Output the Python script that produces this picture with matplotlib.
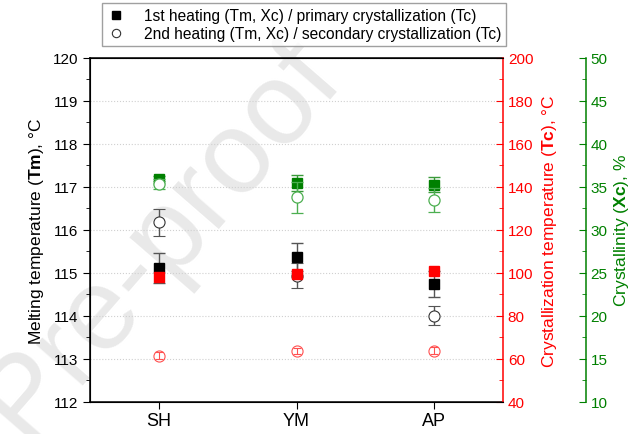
import numpy as np
import matplotlib
matplotlib.use('Agg')
import matplotlib.pyplot as plt
from matplotlib.ticker import MultipleLocator
from matplotlib.lines import Line2D

plt.rcParams['font.family'] = ['Liberation Sans', 'DejaVu Sans']
plt.rcParams['mathtext.fontset'] = 'custom'
plt.rcParams['mathtext.rm'] = 'Liberation Sans'
plt.rcParams['mathtext.bf'] = 'Liberation Sans:bold'

# amostras
amostras = ['SH', 'YM', 'AP']

# temperatura de fusao (Tm)
tm_1 = [115.11, 115.37, 114.74]
tm_1_err = [0.35, 0.33, 0.30]
tm_2 = [116.18, 114.94, 114.01]
tm_2_err = [0.31, 0.29, 0.22]

# temperatura de cristalizacao (Tc)
tc_1 = [98.3, 99.5, 100.8]
tc_1_err = [0.6, 0.6, 0.6]
tc_2 = [61.6, 63.8, 63.9]
tc_2_err = [1.5, 1.5, 1.5]

# cristalinidade (Xc)
xc_1 = [35.95, 35.43, 35.27]
xc_1_err = [0.3, 0.93, 0.87]
xc_2 = [35.35, 33.8, 33.45]
xc_2_err = [0.6, 1.82, 1.4]

x = np.arange(1, len(amostras) + 1)

fig = plt.figure(figsize=(6.42, 4.35), dpi=100)
ax = fig.add_axes([0.1402, 0.0736, 0.6433, 0.7908])
ax.set_facecolor('none')

# marca d'agua
fig.text(0.25, 0.45, 'Pre-proof', fontsize=84, color='#e9e9e9',
         rotation=49, ha='center', va='center', zorder=-5)

# eixo Tm
ax.errorbar(x, tm_1, yerr=tm_1_err, fmt='s', color='black', ms=7,
            ecolor='#555555', elinewidth=1, capsize=4, zorder=3)
ax.errorbar(x, tm_2, yerr=tm_2_err, fmt='o', mfc='white', mec='#333333', color='#333333',
            ms=8, mew=0.8, ecolor='#555555', elinewidth=1, capsize=4, zorder=3)
ax.set_xlim(0.5, 3.5)
ax.set_ylim(112, 120)
ax.set_xticks(x)
ax.set_xticklabels(amostras, fontsize=13)
ax.yaxis.set_major_locator(MultipleLocator(1))
ax.yaxis.set_minor_locator(MultipleLocator(0.5))
ax.tick_params(axis='y', which='major', direction='out', length=5, labelsize=11)
ax.tick_params(axis='y', which='minor', direction='out', length=3)
ax.tick_params(axis='x', direction='out', length=5, pad=2)
ax.grid(axis='y', linestyle=':', color='#d0d0d0', linewidth=0.8)
ax.set_ylabel(r'Melting temperature ($\mathbf{Tm}$), °C', fontsize=12.5, labelpad=5)
ax.spines['right'].set_visible(False)
for s in ['left', 'bottom', 'top']:
    ax.spines[s].set_linewidth(1.1)

# eixo Tc
ax2 = ax.twinx()
ax2.set_facecolor('none')
ax2.errorbar(x, tc_1, yerr=tc_1_err, fmt='s', color='red', ms=7,
             ecolor='red', elinewidth=1, capsize=0, zorder=3)
ax2.errorbar(x, tc_2, yerr=tc_2_err, fmt='o', mfc='none', mec='#ff5050', color='#ff5050',
             ms=8, mew=0.8, ecolor='#ff5050', elinewidth=0.8, capsize=3, zorder=3)
ax2.set_ylim(40, 200)
ax2.yaxis.set_major_locator(MultipleLocator(20))
ax2.yaxis.set_minor_locator(MultipleLocator(10))
ax2.tick_params(axis='y', which='both', colors='red', direction='in', labelsize=11)
ax2.tick_params(axis='y', which='major', length=5)
ax2.tick_params(axis='y', which='minor', length=3)
ax2.spines['right'].set_color('red')
ax2.spines['right'].set_linewidth(1.1)
ax2.set_ylabel(r'Crystallization temperature ($\mathbf{Tc}$), °C', color='red',
               fontsize=12.5, labelpad=5)

# eixo Xc
ax3 = ax.twinx()
ax3.set_facecolor('none')
ax3.spines['right'].set_position(('axes', 1.2))
ax3.errorbar(x, xc_1, yerr=xc_1_err, fmt='s', color='#008000', ms=7,
             ecolor='#3a9a3a', elinewidth=1, capsize=4, zorder=3)
ax3.errorbar(x, xc_2, yerr=xc_2_err, fmt='o', mfc='white', mec='#4caf50', color='#4caf50',
             ms=8, mew=0.9, ecolor='#4caf50', elinewidth=1, capsize=4, zorder=4)
ax3.set_ylim(10, 50)
ax3.yaxis.set_major_locator(MultipleLocator(5))
ax3.yaxis.set_minor_locator(MultipleLocator(2.5))
ax3.tick_params(axis='y', which='both', colors='#008000', direction='in', labelsize=11)
ax3.tick_params(axis='y', which='major', length=5)
ax3.tick_params(axis='y', which='minor', length=3)
ax3.spines['right'].set_color('#008000')
ax3.spines['right'].set_linewidth(1.1)
for s in ['left', 'top', 'bottom']:
    ax3.spines[s].set_visible(False)
ax3.set_ylabel(r'Crystallinity ($\mathbf{Xc}$), %', color='#008000', fontsize=12.5, labelpad=3)

# legenda
handles = [Line2D([], [], marker='s', color='black', ls='none', ms=6),
           Line2D([], [], marker='o', mfc='white', mec='#333333', ls='none', ms=6, mew=0.8)]
labels = ['1st heating (Tm, Xc) / primary crystallization (Tc)',
          '2nd heating (Tm, Xc) / secondary crystallization (Tc)']
leg = fig.legend(handles, labels, loc='center', bbox_to_anchor=(304 / 642, 1 - 25.5 / 435),
                 fontsize=11.2, frameon=True, fancybox=False, edgecolor='#888888',
                 handletextpad=1.2, borderpad=0.3, labelspacing=0.2, handlelength=1.2)
leg.get_frame().set_linewidth(1.0)

plt.savefig('out.png', dpi=100)
